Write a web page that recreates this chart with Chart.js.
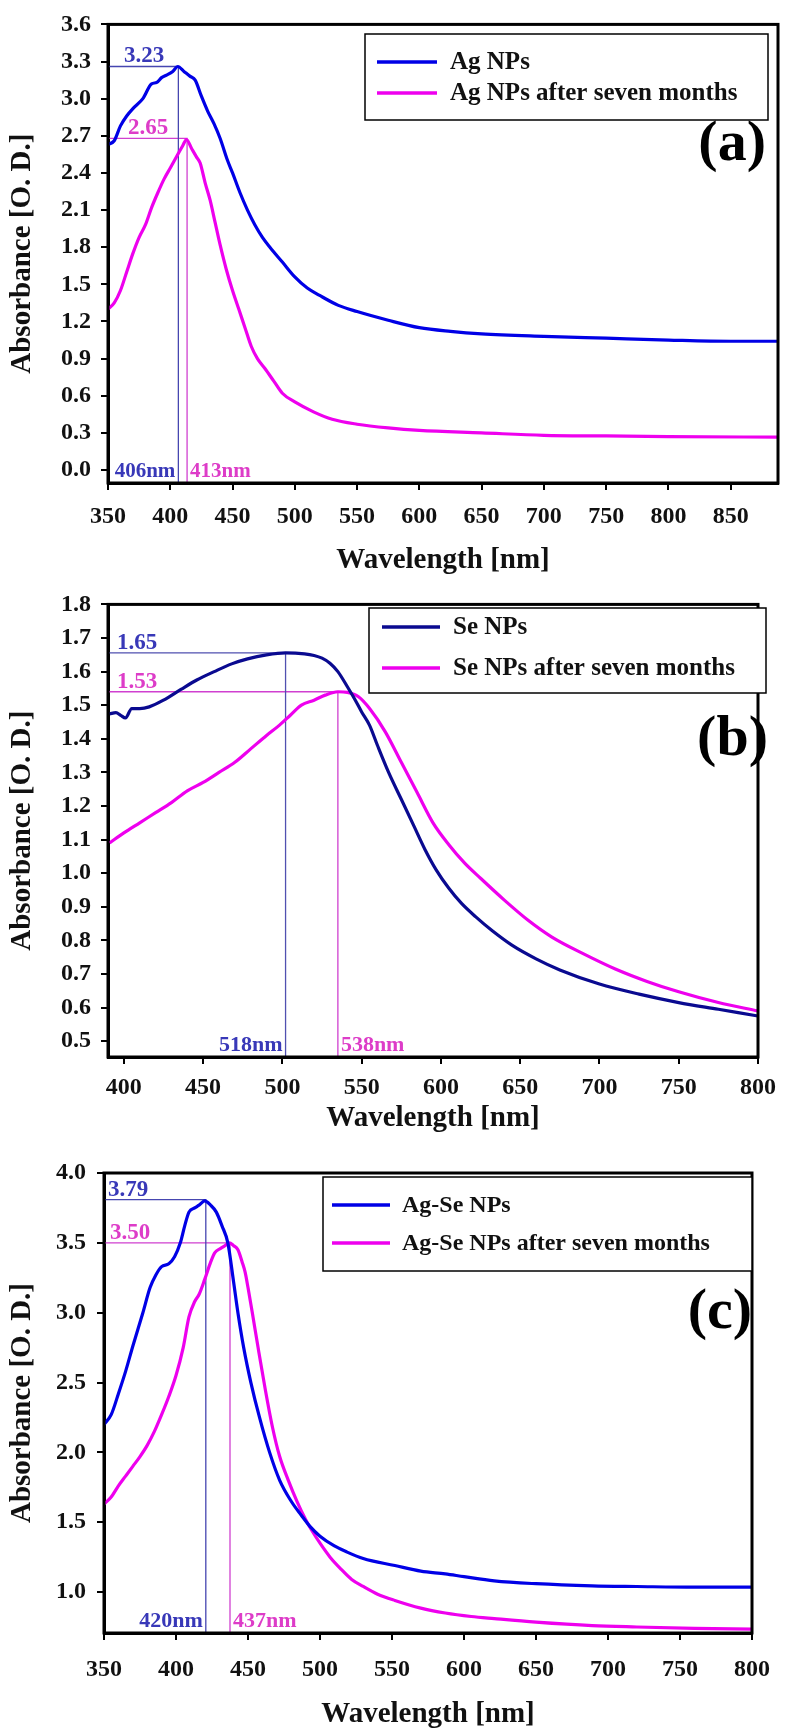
<!DOCTYPE html>
<html><head><meta charset="utf-8">
<script src="https://cdn.jsdelivr.net/npm/chart.js@4"></script>
<style>
html,body{margin:0;padding:0;background:#fff;width:785px;height:1730px;overflow:hidden}
canvas{position:absolute;left:0}
</style></head><body>
<canvas id="ca" width="785" height="580" style="top:0;width:785px;height:580px"></canvas>
<canvas id="cb" width="785" height="560" style="top:580px;width:785px;height:560px"></canvas>
<canvas id="cc" width="785" height="590" style="top:1140px;width:785px;height:590px"></canvas>
<script>
const FONT = "'Liberation Serif','Times New Roman',serif";

// ---------- Panel (a): Ag NPs ----------
const wlAgA = [350,355,360,365,370,378,385,389,393,397,402,406,411,416,420,425,430,435,440,446,450,456,462,468,474,480,490,500,510,520,535,550,575,600,625,650,700,750,800,850,888];
const absAgA = [2.63,2.66,2.78,2.86,2.92,3.00,3.12,3.13,3.17,3.19,3.22,3.26,3.22,3.18,3.15,3.02,2.90,2.80,2.68,2.50,2.40,2.24,2.10,1.98,1.88,1.80,1.68,1.56,1.47,1.41,1.33,1.28,1.21,1.15,1.12,1.10,1.08,1.065,1.05,1.04,1.04];
const wlAgAgedA = [350,355,360,365,370,375,380,385,390,395,400,405,410,413,417,421,424,428,432,436,440,445,450,455,460,465,470,476,483,490,500,515,530,550,575,600,650,700,750,800,888];
const absAgAgedA = [1.30,1.35,1.45,1.60,1.75,1.88,1.98,2.12,2.24,2.35,2.44,2.53,2.62,2.67,2.60,2.53,2.48,2.32,2.18,2.00,1.82,1.62,1.45,1.30,1.15,1.00,0.90,0.82,0.72,0.62,0.55,0.47,0.41,0.37,0.34,0.32,0.30,0.28,0.275,0.27,0.265];
const peakA = [[406.5, 3.26], [413.5, 2.68]];
const peakLabelsA = [["3.23","406nm"], ["2.65","413nm"]];
const xTicksA = [350,400,450,500,550,600,650,700,750,800,850];
const yTicksA = [0.0,0.3,0.6,0.9,1.2,1.5,1.8,2.1,2.4,2.7,3.0,3.3,3.6];
const legendA = ["Ag NPs", "Ag NPs after seven months"];

// ---------- Panel (b): Se NPs ----------
const wlSeB = [391,395,398,401,405,410,416,425,436,446,457,468,478,490,502,514,520,525,530,535,541,546,550,555,560,567,575,583,590,597,605,613,622,632,645,660,675,700,725,750,775,800];
const absSeB = [1.474,1.478,1.470,1.462,1.490,1.490,1.495,1.515,1.547,1.575,1.600,1.623,1.638,1.650,1.656,1.653,1.648,1.640,1.625,1.600,1.555,1.515,1.480,1.440,1.380,1.300,1.220,1.140,1.070,1.010,0.955,0.910,0.870,0.830,0.785,0.745,0.712,0.670,0.640,0.615,0.595,0.575];
const wlSeAgedB = [391,400,410,420,430,440,450,460,470,480,490,498,505,512,520,527,535,541,548,555,565,575,585,595,605,615,625,640,655,670,690,710,730,750,775,800];
const absSeAgedB = [1.09,1.12,1.15,1.18,1.21,1.245,1.27,1.30,1.33,1.37,1.41,1.44,1.47,1.50,1.515,1.53,1.54,1.538,1.525,1.49,1.42,1.33,1.24,1.15,1.085,1.03,0.985,0.92,0.86,0.81,0.76,0.715,0.678,0.647,0.615,0.59];
const peakB = [[502, 1.656], [535, 1.54]];
const peakLabelsB = [["1.65","518nm"], ["1.53","538nm"]];
const xTicksB = [400,450,500,550,600,650,700,750,800];
const yTicksB = [0.5,0.6,0.7,0.8,0.9,1.0,1.1,1.2,1.3,1.4,1.5,1.6,1.7,1.8];
const legendB = ["Se NPs", "Se NPs after seven months"];

// ---------- Panel (c): Ag-Se NPs ----------
const wlAgSeC = [350,355,360,365,370,377,382,386,390,395,399,403,406,409,413,416,420,424,428,432,436,440,443,447,452,458,465,472,480,487,493,500,510,518,530,552,570,587,600,621,650,689,720,760,800];
const absAgSeC = [2.20,2.27,2.42,2.58,2.76,3.00,3.18,3.27,3.33,3.35,3.40,3.50,3.62,3.72,3.75,3.77,3.80,3.77,3.72,3.62,3.50,3.22,3.00,2.75,2.50,2.25,2.00,1.80,1.65,1.55,1.47,1.40,1.33,1.29,1.24,1.19,1.15,1.13,1.11,1.08,1.06,1.045,1.04,1.035,1.035];
const wlAgSeAgedC = [350,355,360,365,370,375,380,385,390,395,400,405,409,413,416,420,424,427,431,434,437,440,443,446,448,450,453,457,462,467,472,478,484,490,495,500,507,515,522,530,540,552,570,587,605,621,650,689,720,760,800];
const absAgSeAgedC = [1.63,1.68,1.76,1.83,1.90,1.97,2.05,2.15,2.27,2.40,2.55,2.75,2.97,3.08,3.13,3.24,3.36,3.43,3.46,3.48,3.50,3.48,3.45,3.36,3.29,3.18,3.00,2.75,2.45,2.18,1.97,1.80,1.65,1.52,1.43,1.35,1.25,1.16,1.09,1.04,0.985,0.94,0.885,0.85,0.825,0.81,0.785,0.76,0.75,0.74,0.735];
const peakC = [[420.7, 3.81], [437.5, 3.50]];
const peakLabelsC = [["3.79","420nm"], ["3.50","437nm"]];
const xTicksC = [350,400,450,500,550,600,650,700,750,800];
const yTicksC = [1.0,1.5,2.0,2.5,3.0,3.5,4.0];
const legendC = ["Ag-Se NPs", "Ag-Se NPs after seven months"];

const zip = (xs, ys) => xs.map((x, i) => ({x, y: ys[i]}));

function makePanel(id, p) {
  const ctxEl = document.getElementById(id);
  const H = ctxEl.height;
  const seriesDs = [0,1].map(i => ({
    label: p.legend[i],
    data: zip(p.wl[i], p.abs[i]),
    borderColor: p.colors[i],
    borderWidth: 3.2,
    pointRadius: 0,
    cubicInterpolationMode: 'monotone',
    fill: false
  }));
  const annDs = [0,1].map(i => ({
    label: 'ann' + i,
    data: [{x: p.x[0], y: p.peaks[i][1]}, {x: p.peaks[i][0], y: p.peaks[i][1]}, {x: p.peaks[i][0], y: p.y[0]}],
    borderColor: p.annColors[i],
    borderWidth: 1.3,
    pointRadius: 0,
    tension: 0,
    fill: false
  }));
  const overlay = {
    id: 'overlay' + id,
    afterDraw(chart) {
      const c = chart.ctx, a = chart.chartArea;
      const xs = chart.scales.x, ys = chart.scales.y;
      c.save();
      c.strokeStyle = '#000'; c.lineWidth = 3;
      c.strokeRect(a.left, a.top, a.right - a.left, a.bottom - a.top);
      for (let i = 0; i < 2; i++) {
        const py = ys.getPixelForValue(p.peaks[i][1]);
        const px = xs.getPixelForValue(p.peaks[i][0]);
        c.fillStyle = p.labelColors[i];
        c.font = 'bold ' + p.annFont + 'px ' + FONT;
        c.textAlign = 'left'; c.textBaseline = 'alphabetic';
        c.fillText(p.peakLabels[i][0], a.left + p.valOff[i], py - 4);
        c.font = 'bold ' + p.nmFont + 'px ' + FONT;
        if (i === 0) { c.textAlign = 'right'; c.fillText(p.peakLabels[i][1], px - 3, a.bottom - 6); }
        else { c.textAlign = 'left'; c.fillText(p.peakLabels[i][1], px + 3, a.bottom - 6); }
      }
      const L = p.legBox;
      c.fillStyle = '#fff';
      c.fillRect(L[0], L[1], L[2] - L[0], L[3] - L[1]);
      c.strokeStyle = '#000'; c.lineWidth = 1.5;
      c.strokeRect(L[0], L[1], L[2] - L[0], L[3] - L[1]);
      c.font = 'bold ' + p.legFont + 'px ' + FONT;
      c.textAlign = 'left'; c.textBaseline = 'middle';
      for (let i = 0; i < 2; i++) {
        const ly = p.legRows[i];
        c.strokeStyle = p.colors[i]; c.lineWidth = 3.5;
        c.beginPath(); c.moveTo(p.legLine[0], ly); c.lineTo(p.legLine[1], ly); c.stroke();
        c.fillStyle = '#111';
        c.fillText(chart.data.datasets[i].label, p.legText, ly + 1);
      }
      c.font = 'bold ' + p.letterFont + 'px ' + FONT;
      c.textAlign = 'right'; c.textBaseline = 'middle';
      c.fillStyle = '#000';
      c.fillText(p.letter, p.letterPos[0], p.letterPos[1]);
      c.restore();
    }
  };
  return new Chart(ctxEl, {
    type: 'line',
    data: {datasets: seriesDs.concat(annDs)},
    options: {
      responsive: false, animation: false, devicePixelRatio: 1,
      layout: {padding: {top: p.area.top, right: 785 - p.area.right, left: 0, bottom: 0}},
      plugins: {legend: {display: false}, tooltip: {enabled: false}},
      scales: {
        x: {
          type: 'linear', min: p.x[0], max: p.x[1],
          afterBuildTicks: s => { s.ticks = p.xTicks.map(v => ({value: v})); },
          afterFit: s => { s.height = H - p.area.bottom; },
          ticks: {color: '#111', font: {family: FONT, size: 24, weight: 'bold'}, padding: p.xPad, maxRotation: 0, autoSkip: false, callback: v => String(v)},
          grid: {drawOnChartArea: false, drawTicks: true, tickLength: 7, color: '#000', lineWidth: 2},
          border: {display: true, color: '#000', width: 3},
          title: {display: true, text: 'Wavelength [nm]', color: '#111', font: {family: FONT, size: 29, weight: 'bold', lineHeight: 1}, padding: {top: 0, bottom: p.xTitleOff}}
        },
        y: {
          type: 'linear', min: p.y[0], max: p.y[1],
          afterBuildTicks: s => { s.ticks = p.yTicks.map(v => ({value: v})); },
          afterFit: s => { s.width = p.area.left; },
          ticks: {color: '#111', font: {family: FONT, size: 24, weight: 'bold'}, padding: p.yPad, autoSkip: false, callback: v => Number(v).toFixed(1)},
          grid: {drawOnChartArea: false, drawTicks: true, tickLength: 7, color: '#000', lineWidth: 2},
          border: {display: true, color: '#000', width: 3},
          title: {display: true, text: 'Absorbance [O. D.]', color: '#111', font: {family: FONT, size: 29, weight: 'bold', lineHeight: 1}, padding: {top: 8, bottom: 0}}
        }
      }
    },
    plugins: [overlay]
  });
}

makePanel('ca', {
  wl: [wlAgA, wlAgAgedA], abs: [absAgA, absAgAgedA], legend: legendA,
  colors: ['#0000e6', '#ee00ee'], annColors: ['#4646b0', '#d040d0'], labelColors: ['#3838b8', '#dd3cc8'],
  peaks: peakA, peakLabels: peakLabelsA, xTicks: xTicksA, yTicks: yTicksA,
  x: [350, 888], y: [-0.105, 3.6],
  area: {left: 108, top: 24, right: 778, bottom: 483},
  xPad: 12, yPad: 10, xTitleOff: 5, annFont: 23, nmFont: 21, valOff: [16, 20],
  legBox: [365, 34, 768, 120], legRows: [62, 93], legLine: [377, 437], legText: 450, legFont: 25,
  letter: '(a)', letterFont: 58, letterPos: [766, 145]
});
makePanel('cb', {
  wl: [wlSeB, wlSeAgedB], abs: [absSeB, absSeAgedB], legend: legendB,
  colors: ['#0a0a90', '#ee00ee'], annColors: ['#5050b0', '#d040d0'], labelColors: ['#3838b8', '#dd3cc8'],
  peaks: peakB, peakLabels: peakLabelsB, xTicks: xTicksB, yTicks: yTicksB,
  x: [390, 800], y: [0.453, 1.8],
  area: {left: 108, top: 17, right: 770, bottom: 477},
  xPad: 9, yPad: 10, xTitleOff: 7, annFont: 23, nmFont: 22, valOff: [9, 9],
  legBox: [369, 28, 766, 113], legRows: [47, 88], legLine: [382, 440], legText: 453, legFont: 25,
  letter: '(b)', letterFont: 58, letterPos: [768, 160]
});
makePanel('cc', {
  wl: [wlAgSeC, wlAgSeAgedC], abs: [absAgSeC, absAgSeAgedC], legend: legendC,
  colors: ['#0000e6', '#ee00ee'], annColors: ['#4646b0', '#d040d0'], labelColors: ['#3838b8', '#dd3cc8'],
  peaks: peakC, peakLabels: peakLabelsC, xTicks: xTicksC, yTicks: yTicksC,
  x: [350, 800], y: [0.707, 4.0],
  area: {left: 104, top: 33, right: 762, bottom: 493},
  xPad: 15, yPad: 11, xTitleOff: 1, annFont: 23, nmFont: 22, valOff: [4, 6],
  legBox: [323, 37, 752, 131], legRows: [65, 103], legLine: [332, 390], legText: 402, legFont: 24,
  letter: '(c)', letterFont: 58, letterPos: [752, 173]
});
</script>
</body></html>
